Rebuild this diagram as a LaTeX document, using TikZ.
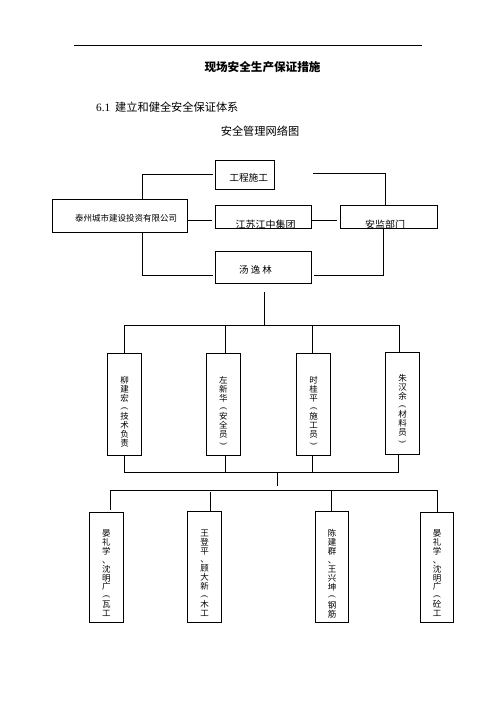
\documentclass[tikz,border=0pt]{standalone}
\usepackage{fontspec}
\setmainfont{Liberation Serif}
\newfontfamily\cjk{Noto Sans CJK SC}
\newcommand{\vop}{\rotatebox[origin=c]{-90}{\rmfamily(}}
\newcommand{\vcl}{\rotatebox[origin=c]{-90}{\rmfamily)}}
\begin{document}
\begin{tikzpicture}[x=1pt,y=-1pt,
  box/.style={draw,line width=1pt,inner sep=0pt,minimum width=#1},
  conn/.style={line width=1pt},
  vtext/.style={inner sep=0pt,align=center,font=\cjk\fontsize{8.5}{8.9}\selectfont,anchor=north},
  htext/.style={inner sep=0pt,font=\cjk\fontsize{8.5}{10}\selectfont}]
\useasboundingbox (0,0) rectangle (496,702);
\fill[white] (0,0) rectangle (496,702);
% header
\coordinate (hl) at (74,45.7);
\coordinate (hr) at (421.7,45.7);
\draw[line width=1pt] (hl) -- (hr);
\node[inner sep=0pt,font=\cjk\bfseries\fontsize{11.6}{13}\selectfont] (title) at (262.5,67.5) {现场安全生产保证措施};
\node[inner sep=0pt,anchor=west,font=\cjk\fontsize{11.2}{13}\selectfont] (sec) at (96,107) {{\rmfamily 6.1}\ \ 建立和健全安全保证体系};
\node[inner sep=0pt,font=\cjk\fontsize{11.2}{13}\selectfont] (sub) at (260,131.5) {安全管理网络图};
% top boxes
\node[box=58.6pt,minimum height=29.3pt] (gc) at (245,174.7) {};
\node[htext,font=\cjk\fontsize{9.7}{11}\selectfont] (gct) at (248.7,178.3) {工程施工};
\node[box=135pt,minimum height=32.7pt] (tz) at (119.8,215.7) {};
\node[htext] (tzt) at (126,218) {泰州城市建设投资有限公司};
\node[box=96pt,minimum height=23.4pt] (js) at (263.7,217) {};
\node[box=97.3pt,minimum height=23.4pt] (aj) at (388.7,217) {};
\begin{scope}
\clip (js.north west) rectangle (js.south east);
\node[htext,font=\cjk\fontsize{10}{11}\selectfont] (jst) at (265.5,224.5) {江苏江中集团};
\end{scope}
\begin{scope}
\clip (aj.north west) rectangle (aj.south east);
\node[htext,font=\cjk\fontsize{10}{11}\selectfont] (ajt) at (385,224.5) {安监部门};
\end{scope}
\node[box=96pt,minimum height=32.3pt] (tyl) at (263.5,267.8) {};
\node[htext,font=\cjk\fontsize{9.5}{11}\selectfont] (tylt) at (255.5,270) {汤\ 逸\ 林};
% top connectors
\draw[conn,shorten <=2pt] (gc.west) -| ([xshift=22.5pt]tz.north);
\coordinate (r1) at (313.3,173.3);
\draw[conn] (r1) -| ([xshift=-3.7pt]aj.north);
\draw[conn,shorten >=3pt] ([yshift=-3pt]tz.east |- js.west) -- ([yshift=-3pt]js.west);
\draw[conn,shorten <=0pt,shorten >=3pt] ([yshift=-3pt]js.east) -- ([yshift=-3pt]aj.west);
\draw[conn,shorten >=2.5pt] ([xshift=22.5pt]tz.south) |- ([yshift=-7.5pt]tyl.west);
\draw[conn] ([xshift=-5.4pt]aj.south) |- ([yshift=-7.3pt,xshift=1.8pt]tyl.east);
% middle boxes
\node[box=34.4pt,minimum height=102pt] (p1) at (124.5,404.3) {};
\node[box=34pt,minimum height=102pt] (p2) at (223.3,404.3) {};
\node[box=34pt,minimum height=102pt] (p3) at (313.7,404.3) {};
\node[box=33.6pt,minimum height=101.7pt] (p4) at (402.5,403.2) {};
\node[vtext] (p1t) at (124.5,376.5) {柳\\建\\宏\\\vop\\技\\术\\负\\责};
\node[vtext] (p2t) at (223.3,376.5) {左\\新\\华\\\vop\\安\\全\\员\\\vcl};
\node[vtext] (p3t) at (313.7,376.5) {时\\桂\\平\\\vop\\施\\工\\员\\\vcl};
\node[vtext] (p4t) at (402.5,374.5) {朱\\汉\\余\\\vop\\材\\料\\员\\\vcl};
\coordinate (bus1) at (264.3,325);
\draw[conn,shorten <=7.7pt] ([xshift=0.8pt]tyl.south) -- (bus1);
\draw[conn] (p1.north) -- (p1.north |- bus1) -- ([xshift=-3.2pt]p4.north |- bus1) -- ([xshift=-3.2pt,yshift=-1pt]p4.north);
\draw[conn] ([xshift=2pt]p2.north) -- ([xshift=2pt]p2.north |- bus1);
\draw[conn] ([xshift=-1.4pt]p3.north) -- ([xshift=-1.4pt]p3.north |- bus1);
\coordinate (bus2) at (277.7,472);
\draw[conn] (p1.south) -- (p1.south |- bus2) -- ([xshift=-4.5pt]p4.south |- bus2) -- ([xshift=-4.5pt]p4.south);
\draw[conn] ([xshift=2pt]p2.south) -- ([xshift=2pt]p2.south |- bus2);
\draw[conn] ([xshift=-1.4pt]p3.south) -- ([xshift=-1.4pt]p3.south |- bus2);
% bottom boxes
\node[box=34pt,minimum height=110.4pt] (w1) at (106.3,567.5) {};
\node[box=34.4pt,minimum height=111.4pt] (w2) at (204.5,567) {};
\node[box=33.4pt,minimum height=111.4pt] (w3) at (332,567) {};
\node[box=32.6pt,minimum height=110.4pt] (w4) at (437,567.5) {};
\node[vtext] (w1t) at (106.3,529.5) {晏\\礼\\学\\、\\沈\\明\\广\\\vop\\瓦\\工};
\node[vtext] (w2t) at (204.5,529.5) {王\\登\\平\\、\\顾\\大\\新\\\vop\\木\\工};
\node[vtext] (w3t) at (332,529.5) {陈\\建\\群\\、\\王\\兴\\坤\\\vop\\钢\\筋};
\node[vtext] (w4t) at (437,529.5) {晏\\礼\\学\\、\\沈\\明\\广\\\vop\\砼\\工};
\coordinate (bus3) at (277.7,490);
\draw[conn,shorten >=4.3pt] (bus2) -- (bus3);
\draw[conn,shorten >=1.5pt] ([xshift=3.7pt]w1.north |- bus3) -- ([xshift=3.7pt]w1.north);
\draw[conn] ([xshift=3.7pt]w1.north |- bus3) -- ([xshift=0.7pt]w4.north |- bus3) -- ([xshift=0.7pt]w4.north);
\draw[conn,shorten <=2.3pt] ([xshift=5.8pt]w2.north |- bus3) -- ([xshift=5.8pt]w2.north);
\draw[conn] ([xshift=-0.3pt]w3.north |- bus3) -- ([xshift=-0.3pt]w3.north);
\end{tikzpicture}
\end{document}
